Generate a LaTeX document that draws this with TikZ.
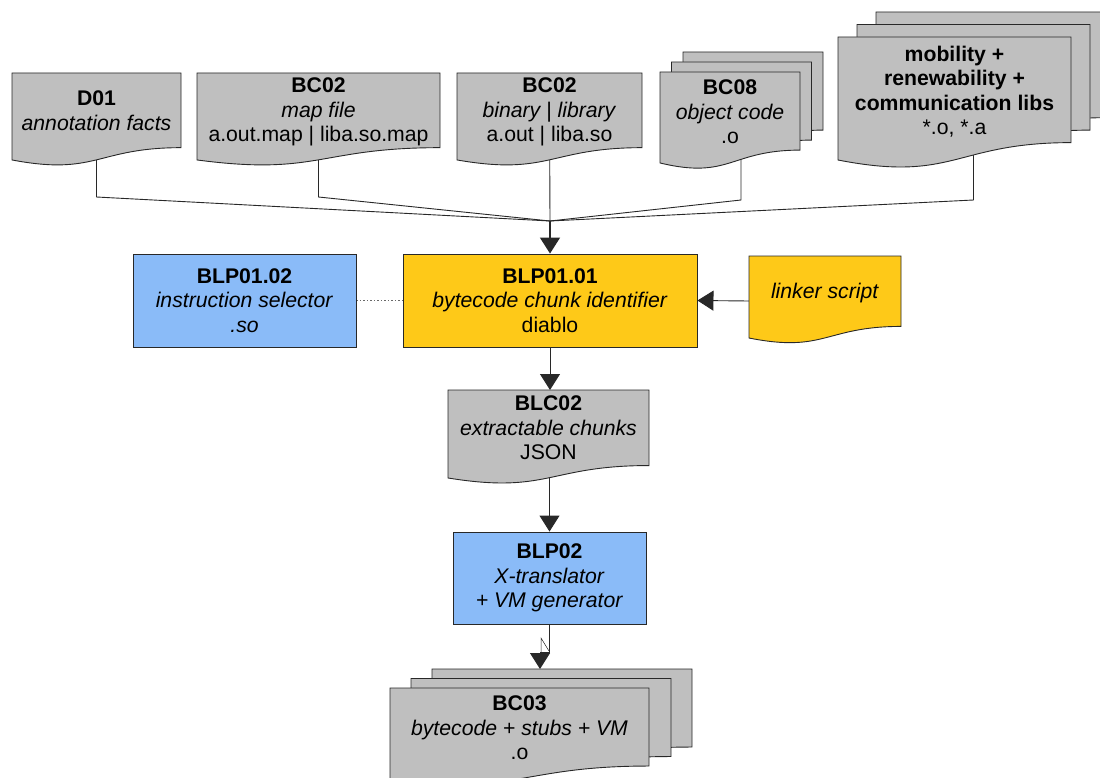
\documentclass[tikz,border=0pt]{standalone}
\usepackage{fontspec}
\setmainfont{Liberation Sans}
\usetikzlibrary{arrows.meta}
\pgfdeclarelayer{background}
\pgfsetlayers{background,main}

\definecolor{docgray}{RGB}{191,191,191}
\definecolor{procblue}{RGB}{138,187,248}
\definecolor{procyellow}{RGB}{254,201,24}
\definecolor{edge}{RGB}{40,40,40}

% flowchart "document" page: #1 left, #2 top, #3 right, #4 nominal height, #5 fill
\newcommand{\docpage}[5]{%
  \path[docline, fill=#5] (#1,#2) -- (#3,#2) -- (#3,{#2+0.802*#4})
    .. controls ({(#1+#3)/2},{#2+0.802*#4}) and ({(#1+#3)/2},{#2+1.107*#4})
    .. (#1,{#2+0.934*#4}) -- cycle;}

\begin{document}
\begin{tikzpicture}[x=1pt,y=-1pt,
  docline/.style={draw=edge, line width=0.9pt},
  txt/.style={font=\fontsize{21.2}{24.5}\selectfont, align=center, inner sep=0pt},
  procbox/.style={draw=edge, line width=0.9pt, txt, minimum height=93pt},
  wire/.style={draw=edge, line width=0.9pt},
  flowarrow/.style={wire, -{Triangle[length=16pt,width=20pt]}},
]
\clip (0,0) rectangle (1100,778);

% ---- input documents ----
\docpage{12}{73}{181}{93.1}{docgray}
\node[txt] (d01) at (96.5,110.5) {\textbf{D01}\\\textit{annotation facts}};

\docpage{197}{73}{440}{93.1}{docgray}
\node[txt] (bc02map) at (318.5,112) {\textbf{BC02}\\\textit{map file}\\a.out.map | liba.so.map};

\docpage{457}{73}{642}{93.1}{docgray}
\node[txt] (bc02bin) at (549.5,112) {\textbf{BC02}\\\textit{binary | library}\\a.out | liba.so};

\docpage{683}{52}{823}{97.4}{docgray}
\docpage{671.5}{62}{811.5}{97.4}{docgray}
\docpage{660}{72}{800}{97.4}{docgray}
\node[txt] (bc08) at (730,112) {\textbf{BC08}\\\textit{object code}\\.o};

\docpage{876}{12}{1109}{131.7}{docgray}
\docpage{857}{24.5}{1090}{131.7}{docgray}
\docpage{838}{37}{1071}{131.7}{docgray}
\node[txt] (libs) at (954.5,91.5) {\textbf{mobility +}\\\textbf{renewability +}\\\textbf{communication libs}\\*.o, *.a};

% ---- chunk identification ----
\node[procbox, fill=procblue, minimum width=223pt] (blp0102) at (244.5,300.5)
  {\textbf{BLP01.02}\\\textit{instruction selector}\\\textit{.so}};
\node[procbox, fill=procyellow, minimum width=294pt] (blp0101) at (550,300.5)
  {\textbf{BLP01.01}\\\textit{bytecode chunk identifier}\\diablo};

\docpage{749}{256}{901}{87.8}{procyellow}
\node[txt] (linker) at (825,293) {\textit{linker script}};

\docpage{448}{390}{649}{94.2}{docgray}
\node[txt] (blc02) at (548.5,428) {\textbf{BLC02}\\\textit{extractable chunks}\\JSON};

\node[procbox, fill=procblue, minimum width=193pt, minimum height=92pt] (blp02) at (549.5,578)
  {\textbf{BLP02}\\\textit{X-translator}\\\textit{+ VM generator}};

% ---- output documents ----
\docpage{432}{669}{692}{97.3}{docgray}
\docpage{411}{678.5}{671}{97.3}{docgray}
\docpage{390}{688}{649}{97.3}{docgray}
\node[txt] (bc03) at (519.5,728) {\textbf{BC03}\\\textit{bytecode + stubs + VM}\\.o};

% small stray stroke next to the last arrow
\draw[edge, line width=0.5pt] (541,652) -- (541,638) -- (549,651);

% ---- connectors ----
\coordinate (merge) at (550,221);
\coordinate (bc08-out) at (741,140);
\coordinate (libs-out) at (973.5,140);
\coordinate (linker-in) at (749,301);
\coordinate (blc02-top) at (550,390);
\coordinate (bc03-top) at (540,669);

\begin{pgfonlayer}{background}
  \fill[white] (0,0) rectangle (1100,778);
  \draw[wire] (d01.center) -- ++(0,86.5) -- (merge);
  \draw[wire] (bc02map.center) -- ++(0,85) -- (merge);
  \draw[wire] (bc08-out) -- ++(0,60) -- (merge);
  \draw[wire] (libs-out) -- ++(0,60) -- (merge);
  \draw[wire] (bc02bin.center) -- (merge);
  \draw[flowarrow, line width=1.5pt] (merge) -- (blp0101.north);
  \draw[flowarrow] (linker-in) -- (blp0101.east);
  \draw[edge!70, dotted, line width=1.5pt] (blp0102.east) -- (blp0101.west);
  \draw[flowarrow] (blp0101.south) -- (blc02-top);
  \draw[flowarrow] (blc02.center -| blp02.north) -- (blp02.north);
  \draw[flowarrow] (blp02.south) -- ++(0,28) -- ++(-9.5,0) -- (bc03-top);
\end{pgfonlayer}
\end{tikzpicture}
\end{document}
